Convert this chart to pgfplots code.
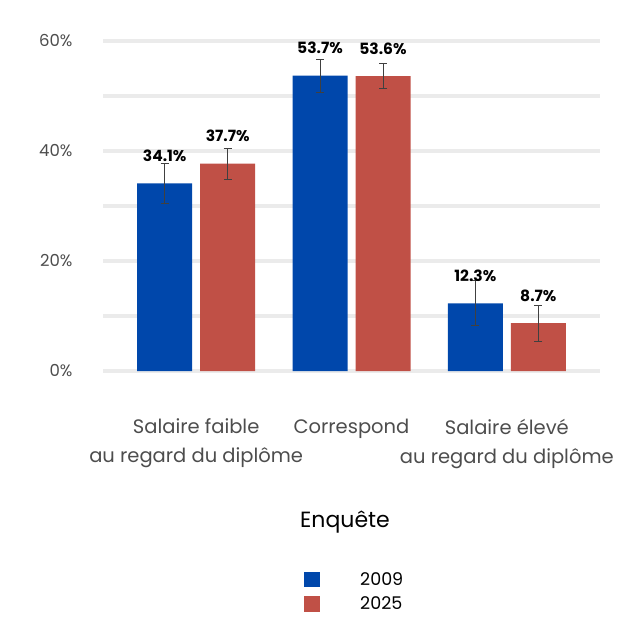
\documentclass[border=0pt]{standalone}
\usepackage{pgfplots}
\pgfplotsset{compat=1.18}
\usepackage{fontspec}
\setmainfont{Poppins}
\definecolor{cblue}{RGB}{0,71,171}
\definecolor{cred}{RGB}{192,80,70}
\definecolor{cgrid}{RGB}{235,235,235}
\definecolor{ctext}{RGB}{77,77,77}
\begin{document}
\begin{tikzpicture}
\path[use as bounding box] (-103pt,-265pt) rectangle (533pt,371pt);
\begin{axis}[
  at={(0pt,0pt)}, anchor=south west,
  scale only axis, width=497pt, height=330pt,
  xmin=0.4, xmax=3.6, ymin=0, ymax=60,
  clip=false,
  ybar=8pt, bar width=55pt,
  axis line style={draw=none},
  tick style={draw=none},
  ytick={0,20,40,60}, minor ytick={10,30,50},
  ymajorgrids, yminorgrids,
  major grid style={cgrid, line width=4.5pt},
  minor grid style={cgrid, line width=3.5pt},
  yticklabel={\pgfmathprintnumber{\tick}\%},
  /pgf/number format/assume math mode=true,
  yticklabel style={font=\fontsize{16.5}{18}\selectfont, text=ctext, xshift=-27pt},
  xtick={1,2,3},
  xticklabels={{Salaire faible\\au regard du diplôme},{Correspond},{Salaire élevé\\au regard du diplôme}},
  xticklabel style={font=\fontsize{19.5}{29}\selectfont, text=ctext, align=center, yshift=-40pt},
  error bars/y dir=both, error bars/y explicit,
  error bars/error bar style={color=black!75, line width=1pt},
  error bars/error mark options={color=black!75, line width=1pt, mark size=4pt, rotate=90},
  nodes near coords={\pgfmathprintnumber[fixed,precision=1,fixed zerofill]{\pgfplotspointmeta}\%},
  nodes near coords style={font=\fontsize{15.5}{17}\bfseries\selectfont, text=black, anchor=center, yshift=27.5pt},
  legend style={at={(201pt,-196pt)}, anchor=north west, draw=none, fill=none, inner sep=0pt, row sep=0pt,
    font=\fontsize{17.5}{20}\selectfont, nodes={inner sep=0pt, text=black}},
  legend cell align=left,
]
\addlegendimage{legend image code/.code={\fill[cblue,draw=none] (0pt,-7.75pt) rectangle (15.5pt,7.75pt); \path[draw=none,fill=none] (0pt,-12.25pt) rectangle (56pt,12.25pt);}}
\addlegendimage{legend image code/.code={\fill[cred,draw=none] (0pt,-7.75pt) rectangle (15.5pt,7.75pt); \path[draw=none,fill=none] (0pt,-12.25pt) rectangle (56pt,12.25pt);}}
\addplot[fill=cblue, draw=none] coordinates {(1,34.1) +- (0,3.6) (2,53.7) +- (0,3.0) (3,12.3) +- (0,4.1)};
\addplot[fill=cred, draw=none] coordinates {(1,37.7) +- (0,2.8) (2,53.6) +- (0,2.3) (3,8.7) +- (0,3.3)};
\legend{2009,2025}
\end{axis}
\node[font=\fontsize{22}{24}\selectfont, text=black] at (242pt,-151pt) {Enquête};
\end{tikzpicture}
\end{document}
